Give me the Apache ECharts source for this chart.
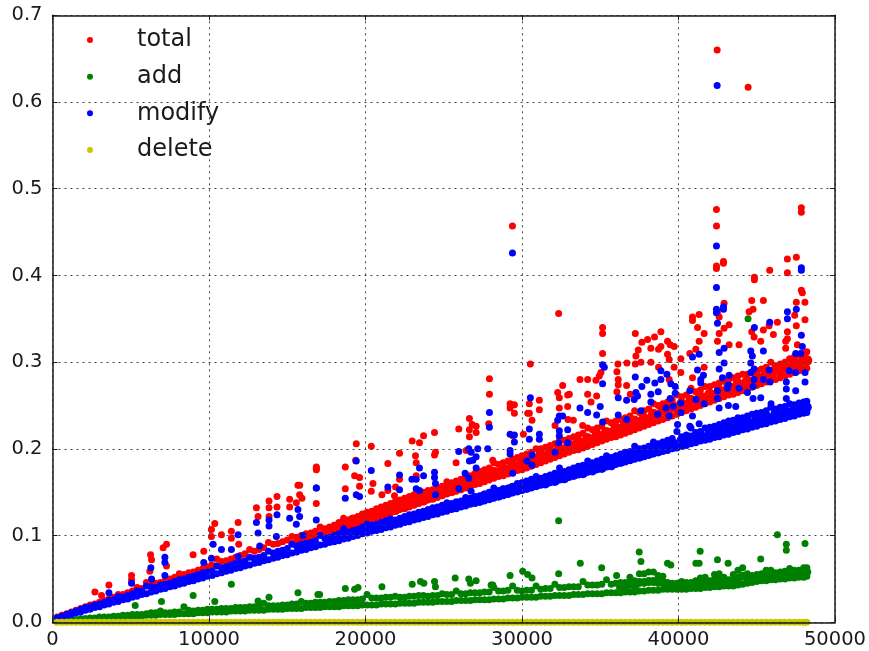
<!DOCTYPE html>
<html><head><meta charset="utf-8">
<style>html,body{margin:0;padding:0;background:#fff}#c{width:869px;height:651px}</style>
<script src="https://cdn.jsdelivr.net/npm/echarts@6/dist/echarts.min.js"></script>
</head><body><div id="c"></div>
<script>
const seriesNames=["total","add","modify","delete"];
const seriesColors=["#ff0000","#008000","#0000ff","#c8c800"];
const bandX=[300,600,900,1200,1500,1800,2100,2400,2700,3000,3300,3600,3900,4200,4500,4800,5100,5400,5700,6000,6300,6600,6900,7200,7500,7800,8100,8400,8700,9000,9300,9600,9900,10200,10500,10800,11100,11400,11700,12000,12300,12600,12900,13200,13500,13800,14100,14400,14700,15000,15300,15600,15900,16200,16500,16800,17100,17400,17700,18000,18300,18600,18900,19200,19500,19800,20100,20400,20700,21000,21300,21600,21900,22200,22500,22800,23100,23400,23700,24000,24300,24600,24900,25200,25500,25800,26100,26400,26700,27000,27300,27600,27900,28200,28500,28800,29100,29400,29700,30000,30300,30600,30900,31200,31500,31800,32100,32400,32700,33000,33300,33600,33900,34200,34500,34800,35100,35400,35700,36000,36300,36600,36900,37200,37500,37800,38100,38400,38700,39000,39300,39600,39900,40200,40500,40800,41100,41400,41700,42000,42300,42600,42900,43200,43500,43800,44100,44400,44700,45000,45300,45600,45900,46200,46500,46800,47100,47400,47700,48000,48200];
// dense-band rows, aligned with bandX from its first station
const blueLow=[.005,.006,.008,.009,.011,.012,.014,.015,.017,.018,.020,.021,.023,.024,.026,.027,.029,.030,.032,.033,.035,.036,.038,.039,.041,.042,.044,.045,.047,.048,.050,.051,.053,.054,.056,.057,.059,.060,.062,.063,.065,.066,.068,.069,.071,.072,.074,.075,.077,.078,.080,.081,.083,.084,.086,.087,.089,.090,.092,.093,.094,.096,.097,.099,.100,.102,.103,.105,.106,.107,.109,.110,.112,.113,.115,.116,.118,.119,.121,.122,.124,.125,.127,.128,.130,.131,.133,.134,.136,.137,.139,.140,.142,.143,.145,.146,.148,.149,.151,.152,.154,.155,.157,.158,.160,.161,.163,.164,.166,.167,.169,.170,.172,.173,.175,.176,.178,.179,.181,.182,.184,.185,.187,.188,.190,.191,.193,.194,.196,.197,.198,.200,.201,.203,.204,.206,.207,.209,.210,.211,.213,.214,.216,.217,.219,.220,.222,.223,.225,.226,.228,.229,.231,.232,.234,.235,.237,.238,.240,.241,.242];
const blueHigh=[.005,.007,.009,.011,.013,.015,.017,.018,.020,.021,.023,.025,.026,.030,.029,.031,.033,.036,.036,.042,.041,.040,.043,.044,.045,.047,.049,.050,.052,.053,.055,.057,.058,.059,.065,.063,.064,.066,.068,.069,.071,.075,.074,.075,.077,.082,.080,.082,.083,.085,.090,.088,.090,.091,.092,.094,.100,.097,.098,.100,.102,.108,.104,.106,.107,.110,.113,.112,.113,.115,.117,.119,.118,.120,.122,.124,.125,.127,.128,.130,.132,.133,.135,.138,.137,.139,.140,.144,.143,.145,.146,.148,.150,.155,.152,.154,.155,.157,.160,.161,.163,.165,.168,.166,.168,.170,.172,.178,.174,.176,.178,.180,.181,.186,.184,.186,.188,.192,.190,.192,.194,.196,.197,.203,.200,.201,.203,.208,.206,.208,.210,.212,.220,.214,.216,.224,.219,.220,.224,.225,.226,.228,.230,.232,.233,.236,.236,.238,.240,.241,.242,.244,.248,.246,.248,.249,.252,.251,.253,.254,.255];
// starts at the 61st station
const blueMid=[.098,.100,.101,.103,.104,.106,.108,.109,.110,.111,.113,.115,.115,.117,.119,.120,.122,.123,.125,.126,.128,.129,.131,.133,.134,.135,.137,.139,.140,.141,.140,.146,.143,.149,.146,.152,.149,.155,.152,.159,.155,.161,.158,.164,.160,.166,.163,.169,.166,.173,.170,.175,.172,.178,.175,.181,.178,.184,.181,.189,.185,.191,.188,.194,.191,.197,.194,.200,.197,.205,.201,.207,.204,.210,.207,.213,.210,.216,.213,.221,.217,.223,.220,.226,.223,.229,.226,.232,.229,.236,.232,.238,.235,.241,.238,.244,.241,.247,.244,.250,.248];
const redHigh=[.006,.008,.010,.012,.014,.016,.018,.020,.021,.023,.025,.027,.029,.032,.032,.034,.036,.040,.039,.046,.043,.045,.046,.048,.050,.052,.056,.055,.057,.058,.060,.062,.064,.066,.073,.070,.071,.073,.075,.077,.079,.084,.082,.084,.086,.092,.090,.091,.093,.095,.099,.098,.100,.102,.103,.105,.110,.108,.110,.112,.115,.120,.118,.120,.122,.125,.127,.128,.131,.133,.135,.137,.139,.141,.143,.145,.147,.149,.150,.152,.153,.155,.157,.162,.161,.163,.165,.170,.169,.172,.174,.176,.178,.184,.182,.184,.186,.188,.190,.192,.194,.196,.200,.200,.202,.204,.206,.212,.210,.212,.214,.216,.218,.224,.222,.224,.226,.232,.230,.232,.234,.236,.238,.244,.242,.244,.246,.252,.250,.252,.254,.256,.262,.260,.262,.270,.266,.268,.272,.272,.274,.276,.278,.280,.282,.284,.286,.286,.288,.290,.292,.294,.300,.296,.298,.300,.304,.306,.308,.310,.312];
// starts at the 51st station
const redLow=[.091,.093,.095,.097,.098,.100,.102,.104,.106,.107,.106,.108,.110,.112,.113,.115,.116,.119,.121,.122,.124,.126,.128,.130,.131,.133,.135,.137,.139,.141,.142,.144,.146,.148,.150,.151,.153,.155,.157,.159,.160,.162,.164,.166,.168,.169,.171,.173,.175,.176,.178,.180,.182,.184,.186,.188,.190,.192,.194,.196,.198,.199,.201,.203,.205,.207,.209,.211,.213,.214,.216,.218,.220,.222,.224,.226,.228,.230,.232,.234,.236,.238,.240,.242,.244,.246,.248,.250,.252,.254,.256,.258,.260,.262,.263,.265,.267,.269,.271,.273,.275,.277,.279,.280,.282,.284,.286,.288,.290,.292,.293];
// starts at the 61st station
const redMid=[.109,.114,.112,.118,.116,.121,.119,.125,.123,.128,.127,.132,.130,.136,.134,.140,.138,.144,.141,.147,.145,.151,.149,.154,.152,.158,.156,.162,.160,.166,.164,.169,.168,.173,.172,.177,.175,.181,.179,.186,.184,.189,.187,.193,.191,.197,.195,.200,.198,.205,.202,.208,.206,.212,.210,.216,.214,.219,.218,.224,.222,.228,.226,.232,.230,.235,.233,.240,.238,.245,.243,.249,.247,.252,.250,.256,.254,.260,.258,.263,.261,.267,.265,.271,.269,.275,.273,.278,.276,.283,.281,.287,.285,.291,.289,.295,.293,.299,.297,.303,.302];
const greenLow=[.001,.001,.002,.002,.003,.003,.004,.004,.004,.005,.005,.005,.006,.006,.006,.007,.007,.007,.007,.008,.008,.008,.009,.009,.009,.009,.010,.010,.010,.010,.011,.011,.011,.012,.012,.012,.012,.013,.013,.013,.013,.014,.014,.014,.014,.015,.015,.015,.015,.016,.016,.016,.016,.017,.017,.017,.017,.018,.018,.018,.018,.019,.019,.019,.019,.020,.020,.020,.020,.021,.021,.021,.021,.022,.022,.022,.022,.023,.023,.023,.023,.024,.024,.024,.024,.025,.025,.025,.025,.026,.026,.026,.026,.027,.027,.027,.028,.028,.028,.029,.029,.029,.029,.030,.030,.030,.031,.031,.031,.031,.032,.032,.032,.033,.033,.033,.033,.034,.034,.034,.034,.035,.035,.035,.036,.036,.037,.037,.037,.038,.038,.038,.038,.038,.038,.039,.039,.039,.040,.040,.041,.041,.042,.042,.042,.043,.044,.045,.046,.047,.048,.048,.049,.049,.050,.050,.051,.051,.052,.052,.053];
const greenHigh=[.001,.002,.002,.003,.003,.004,.004,.005,.005,.006,.006,.006,.007,.007,.008,.008,.009,.009,.009,.010,.011,.011,.013,.011,.011,.012,.012,.018,.014,.013,.014,.014,.015,.015,.015,.016,.016,.016,.017,.017,.017,.018,.018,.019,.022,.019,.019,.019,.020,.020,.021,.021,.024,.022,.022,.023,.023,.023,.024,.024,.025,.025,.026,.026,.026,.027,.032,.028,.028,.028,.029,.029,.030,.029,.029,.030,.030,.031,.031,.030,.031,.031,.033,.032,.032,.036,.033,.033,.034,.034,.034,.035,.035,.040,.036,.036,.037,.042,.037,.036,.037,.037,.042,.038,.039,.039,.044,.040,.040,.041,.041,.041,.047,.043,.043,.043,.044,.049,.044,.045,.046,.046,.052,.048,.056,.056,.058,.058,.054,.053,.046,.045,.045,.047,.046,.046,.048,.051,.052,.048,.055,.056,.052,.049,.055,.060,.063,.056,.054,.055,.056,.060,.060,.057,.058,.059,.062,.060,.060,.063,.063];
// starts at the 121st station
const greenMid=[.040,.041,.044,.042,.046,.046,.047,.047,.046,.046,.042,.041,.041,.042,.042,.042,.044,.045,.046,.044,.048,.049,.047,.046,.048,.051,.053,.051,.050,.051,.052,.054,.054,.053,.054,.054,.056,.055,.056,.057,.058];
const deleteY=[0,0,0,0,0,0,0,0,0,0,0,0,0,0,0,0,0,0,0,0,0,0,0,0,0,0,0,0,0,0,0,0,0,0,0,0,0,0,0,0,0,0,0,0,0,0,0,0,0,0,0,0,0,0,0,0,0,0,0,0,0,0,0,0,0,0,0,0,0,0,0,0,0,0,0,0,0,0,0,0,0,0,0,0,0,0,0,0,0,0,0,0,0,0,0,0,0,0,0,0,0,0,0,0,0,0,0,0,0,0,0,0,0,0,0,0,0,0,0,0,0,0,0,0,0,0,0,0,0,0,0,0,0,0,0,0,0,0,0,0,0,0,0,0,0,0,0,0,0,0,0,0,0,0,0,0,0,0,0,0,0];
const totalScatter=[[42470,.660],[44450,.617],[29390,.457],[42426,.476],[42430,.457],[42426,.411],[42426,.408],[42873,.416],[42873,.414],[47850,.478],[47850,.473],[46957,.419],[47530,.421],[45830,.406],[46960,.403],[44850,.398],[44850,.395],[47850,.383],[47914,.380],[44680,.371],[45425,.371],[47530,.369],[48080,.369],[42915,.368],[42490,.357],[42600,.352],[44510,.358],[44765,.361],[47425,.354],[48085,.349],[40895,.352],[40895,.348],[41320,.355],[41215,.340],[42915,.339],[43235,.343],[46320,.346],[45790,.342],[45425,.337],[44680,.335],[44830,.329],[46065,.332],[46960,.335],[46960,.327],[47530,.342],[46850,.324],[35150,.340],[35150,.333],[37240,.333],[38470,.329],[38875,.335],[38025,.326],[37660,.323],[39300,.324],[39470,.320],[39725,.318],[38875,.318],[38235,.316],[38725,.315],[37430,.314],[37280,.307],[39300,.309],[39405,.303],[35150,.310],[40150,.304],[40725,.310],[41110,.315],[41320,.324],[41640,.333],[42600,.333],[42490,.324],[43235,.320],[43870,.320],[45255,.324],[46850,.316],[47595,.320],[37600,.300],[38235,.300],[36130,.298],[36705,.299],[37240,.298],[38725,.294],[39725,.294],[41640,.294],[40150,.288],[36065,.289],[35045,.288],[34940,.284],[33705,.280],[34195,.280],[34725,.279],[36150,.280],[36150,.274],[36685,.273],[36065,.266],[36920,.263],[34195,.263],[34770,.261],[34410,.254],[33025,.263],[40895,.282],[39405,.280],[33280,.233],[33875,.227],[32343,.356],[30535,.298],[27920,.281],[27920,.263],[29240,.252],[29515,.251],[29240,.247],[29515,.241],[30470,.252],[31110,.256],[31110,.245],[30470,.241],[30640,.233],[30365,.241],[32600,.273],[32280,.265],[32385,.259],[32385,.247],[32920,.249],[32920,.262],[32110,.227],[32940,.234],[26640,.235],[26815,.228],[27070,.226],[26640,.222],[27070,.219],[26640,.214],[25960,.223],[27875,.229],[24410,.219],[23710,.215],[22985,.209],[23450,.207],[22175,.195],[24470,.196],[24410,.193],[23195,.192],[23240,.184],[21430,.183],[25790,.184],[29410,.215],[30090,.217],[19410,.206],[20370,.203],[19370,.187],[16860,.179],[16860,.176],[18710,.179],[19305,.169],[19620,.167],[19620,.157],[15795,.158],[18710,.154],[20475,.160],[20370,.151],[21050,.147],[21430,.152],[21920,.156],[21855,.146],[23240,.169],[22175,.165],[28130,.187],[26430,.198],[16855,.178],[15685,.158],[15790,.147],[15940,.143],[15580,.138],[15155,.142],[15155,.133],[16855,.137],[14345,.145],[14345,.133],[13835,.140],[13835,.132],[13835,.122],[13030,.132],[13135,.122],[11860,.115],[10370,.114],[10155,.107],[10155,.099],[10795,.101],[11430,.105],[11430,.097],[11900,.090],[8985,.078],[9665,.082],[7285,.090],[7070,.086],[6265,.078],[6330,.072],[5050,.054],[3605,.043],[2710,.035],[3135,.031],[5050,.049],[6220,.059],[7285,.065]];
const modifyScatter=[[42470,.619],[29390,.426],[42426,.434],[42426,.386],[42426,.361],[42426,.357],[42873,.364],[42873,.361],[47850,.409],[47850,.406],[47530,.361],[46960,.358],[46960,.350],[42490,.345],[45830,.346],[44850,.340],[47850,.331],[47914,.318],[42600,.311],[42915,.316],[44620,.313],[44720,.307],[45425,.313],[47490,.310],[47810,.310],[40895,.306],[41320,.309],[41215,.291],[42915,.299],[42600,.292],[44620,.299],[44830,.292],[44620,.288],[45790,.291],[47065,.290],[47490,.288],[48085,.288],[48085,.277],[35150,.297],[35260,.294],[35150,.275],[37240,.283],[37660,.272],[37980,.279],[38490,.276],[38875,.290],[38875,.280],[39260,.286],[39510,.275],[39790,.272],[38705,.266],[37280,.265],[36150,.259],[36685,.256],[37170,.257],[37385,.261],[38235,.263],[39470,.258],[39790,.264],[40725,.267],[41425,.276],[41595,.285],[41425,.280],[42810,.282],[43235,.285],[43190,.274],[43130,.270],[43870,.270],[44405,.265],[44765,.272],[44830,.280],[45425,.280],[45850,.277],[46890,.277],[46890,.269],[47490,.267],[33705,.247],[34195,.242],[34770,.239],[35000,.249],[35150,.231],[36150,.239],[36685,.234],[38235,.254],[37600,.244],[40150,.253],[41110,.257],[41640,.252],[42490,.267],[42490,.258],[42600,.247],[43190,.250],[43660,.249],[44765,.258],[45255,.259],[45915,.252],[46890,.258],[40150,.242],[40895,.238],[38660,.240],[39195,.247],[39405,.238],[39660,.249],[39940,.228],[40725,.226],[41320,.229],[30535,.259],[27920,.242],[27920,.225],[27810,.200],[29240,.217],[29515,.216],[29515,.208],[29240,.198],[29240,.194],[30470,.223],[31110,.217],[31110,.211],[30470,.211],[32385,.238],[32280,.233],[32600,.238],[32385,.221],[32385,.215],[32920,.222],[32920,.207],[32343,.207],[32110,.196],[30640,.193],[30320,.186],[30640,.181],[29410,.172],[26600,.200],[27175,.200],[25960,.197],[26750,.196],[27070,.191],[26640,.186],[26860,.187],[27070,.178],[26365,.172],[26600,.166],[25960,.154],[26750,.151],[23450,.178],[23710,.169],[24410,.173],[24410,.167],[22175,.170],[22965,.165],[23240,.165],[24470,.160],[23240,.154],[23450,.152],[24470,.147],[21430,.156],[20370,.175],[19410,.186],[16860,.155],[18710,.143],[19410,.147],[19620,.145],[22175,.153],[16855,.155],[15685,.130],[15790,.122],[14345,.124],[13835,.118],[13835,.111],[13030,.115],[13135,.103],[15155,.120],[15580,.113],[16855,.118],[11860,.101],[10265,.090],[10155,.074],[10795,.084],[11430,.084],[11860,.076],[9665,.069],[7180,.075],[7180,.069],[6285,.063],[6330,.050],[7180,.054],[5050,.045],[3605,.034],[14305,.099],[13240,.088],[16005,.100]];
const addScatter=[[44445,.350],[5285,.0195],[6965,.024],[8985,.031],[11430,.044],[10370,.024],[13835,.029],[15685,.034],[16960,.032],[13135,.0245],[32343,.117],[32343,.056],[30045,.059],[30365,.055],[30640,.051],[29240,.054],[28025,.043],[28130,.043],[27070,.048],[26600,.050],[26705,.045],[25730,.051],[24410,.047],[24470,.041],[23515,.047],[23730,.045],[22985,.044],[21050,.041],[19520,.040],[18710,.039],[19305,.038],[17070,.032],[46320,.101],[48085,.091],[46890,.090],[46890,.083],[37490,.081],[41385,.082],[37600,.070],[33725,.068],[35090,.063],[45255,.073],[42490,.072],[41110,.068],[41320,.068],[39300,.068],[39510,.066],[43170,.068],[36045,.054]];
const xTicks=[0,10000,20000,30000,40000,50000];
const yMax=0.7, yStep=0.1;

// pair a row of y values with bandX, beginning at the given station number
const row=(ys,first)=>ys.map((y,i)=>[bandX[first-1+i],y]);
// [colour index, data, marker size]; the middle rows of a band use a wider marker to close it
const layers=[
  [0,row(redMid,61),11],
  [0,[...row(redLow,51),...row(redHigh,1),...totalScatter],7],
  [1,row(greenMid,121),9],
  [1,[...row(greenLow,1),...row(greenHigh,1),...addScatter],7],
  [2,row(blueMid,61),10],
  [2,[...row(blueLow,1),...row(blueHigh,1),...modifyScatter],7],
  [3,row(deleteY,1),7]
];

const ink="#1a1a1a";
const frame={show:true,onZero:false,lineStyle:{color:ink,width:1.5}};
const tick={show:true,inside:true,length:5,lineStyle:{color:ink,width:1}};
const xBase={type:"value",min:xTicks[0],max:xTicks[xTicks.length-1],interval:xTicks[1]-xTicks[0],z:6};
const yBase={type:"value",min:0,max:yMax,interval:yStep,z:6};
const grid={type:[2,4],color:"#444",width:1};

const chart=echarts.init(document.getElementById("c"),null,{renderer:"canvas"});
chart.setOption({
  animation:false,
  backgroundColor:"#fff",
  textStyle:{fontFamily:"DejaVu Sans"},
  grid:{left:52.5,top:15.3,width:783.5,height:607,containLabel:false},
  legend:{
    show:true,left:82,top:23,orient:"vertical",icon:"circle",
    itemWidth:6,itemHeight:6,itemGap:12.67,selectedMode:false,
    data:seriesNames,
    textStyle:{fontFamily:"DejaVu Sans",fontSize:24,color:ink,padding:[0,0,0,39],lineHeight:24}
  },
  xAxis:[
    {...xBase,position:"bottom",axisLine:frame,axisTick:tick,
      axisLabel:{show:true,fontSize:19.5,color:ink,margin:8,fontFamily:"DejaVu Sans",showMaxLabel:true,formatter:v=>String(v)},
      splitLine:{show:true,lineStyle:grid}},
    {...xBase,position:"top",axisLine:frame,axisTick:tick,axisLabel:{show:false},splitLine:{show:false}}
  ],
  yAxis:[
    {...yBase,position:"left",axisLine:frame,axisTick:tick,
      axisLabel:{show:true,fontSize:19.5,color:ink,margin:10,fontFamily:"DejaVu Sans",formatter:v=>v.toFixed(1)},
      splitLine:{show:true,lineStyle:grid}},
    {...yBase,position:"right",axisLine:frame,axisTick:tick,axisLabel:{show:false},splitLine:{show:false}}
  ],
  series:layers.map(([c,data,size])=>({
    name:seriesNames[c],type:"scatter",data,symbol:"circle",symbolSize:size,clip:true,
    xAxisIndex:0,yAxisIndex:0,large:false,progressive:0,silent:true,
    itemStyle:{color:seriesColors[c],opacity:1},
    z:2+c
  }))
});
</script></body></html>
